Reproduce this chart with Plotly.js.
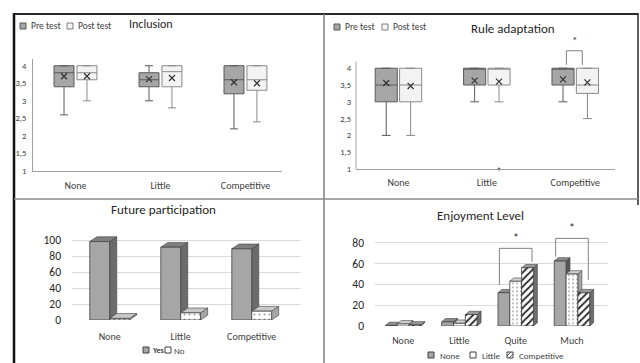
<!DOCTYPE html>
<html><head><meta charset="utf-8">
<script src="https://cdn.plot.ly/plotly-3.0.1.min.js"></script>
<style>body{margin:0;background:#fff}#c{width:640px;height:363px}</style>
</head><body><div id="c"></div>
<script>
// ---------- DATA ----------
const groups = ['None', 'Little', 'Competitive'];
const boxTicks = [1, 1.5, 2, 2.5, 3, 3.5, 4];

// Inclusion (pre / post)
const incPreQ1 = [3.4, 3.4, 3.2], incPreMed = [3.8, 3.6, 3.6], incPreQ3 = [4, 3.8, 4];
const incPreLo = [2.6, 3.0, 2.2], incPreHi = [4, 4, 4], incPreMean = [3.7, 3.62, 3.53];
const incPostQ1 = [3.6, 3.4, 3.3], incPostMed = [3.8, 3.83, 3.6], incPostQ3 = [4, 4, 4];
const incPostLo = [3.0, 2.8, 2.4], incPostHi = [4, 4, 4], incPostMean = [3.7, 3.65, 3.5];

// Rule adaptation (pre / post)
const rulePreQ1 = [3, 3.5, 3.5], rulePreMed = [3.5, 4, 4], rulePreQ3 = [4, 4, 4];
const rulePreLo = [2, 3, 3], rulePreHi = [4, 4, 4], rulePreMean = [3.56, 3.63, 3.67];
const rulePostQ1 = [3, 3.5, 3.25], rulePostMed = [3.5, 4, 3.5], rulePostQ3 = [4, 4, 4];
const rulePostLo = [2, 3, 2.5], rulePostHi = [4, 4, 4], rulePostMean = [3.47, 3.6, 3.58];
const ruleOutlierGroup = [1], ruleOutlierVal = [1];           // post test outlier (Little)
const ruleSigGroup = [2], ruleSigLow = [4.1], ruleSigHigh = [4.52];

// Future participation (%)
const futYes = [98, 91, 89];
const futNo = [2, 9, 11];
const futTicks = [0, 20, 40, 60, 80, 100];

// Enjoyment level (%)
const enjCats = ['None', 'Little', 'Quite', 'Much'];
const enjNone = [0.5, 4, 32, 62.5];
const enjLittle = [2, 2.6, 43, 50];
const enjComp = [1, 11, 56, 32];
const enjTicks = [0, 20, 40, 60, 80];
const enjSigGroup = [2, 3], enjSigTop = [74.7, 84.3];
const enjSigLeftLow = [39.4, 66.6], enjSigRightLow = [61.8, 44.2];

// ---------- HELPERS ----------
const W = 640, H = 363;
const fx = p => p / W, fy = p => 1 - p / H;
const FONT = 'Carlito, Calibri, Lato, "Open Sans", sans-serif';
const idx = a => a.map((_, i) => i);

const traces = [];
const shapes = [];
const annotations = [];

function boxTrace(q1, med, q3, lo, hi, off, w, fill, lc, xa, ya, name) {
  return {
    type: 'box', name: name, x: idx(q1).map(i => i + off),
    q1: q1, median: med, q3: q3, lowerfence: lo, upperfence: hi,
    width: w, fillcolor: fill, line: {color: lc, width: 1}, whiskerwidth: 0.4,
    boxpoints: false, xaxis: xa, yaxis: ya, showlegend: false, hoverinfo: 'skip'
  };
}
function meanTrace(m, off, xa, ya) {
  return {
    type: 'scatter', mode: 'markers', x: idx(m).map(i => i + off), y: m,
    marker: {symbol: 'x-thin', size: 6, line: {color: '#333', width: 1.2}},
    xaxis: xa, yaxis: ya, showlegend: false, hoverinfo: 'skip'
  };
}

// Panel 1: Inclusion
const o1 = 0.135, w1 = 0.235;
traces.push(boxTrace(incPreQ1, incPreMed, incPreQ3, incPreLo, incPreHi, -o1, w1, '#a6a6a6', '#595959', 'x', 'y', 'Pre test'));
traces.push(boxTrace(incPostQ1, incPostMed, incPostQ3, incPostLo, incPostHi, o1, w1, '#f3f3f3', '#8a8a8a', 'x', 'y', 'Post test'));
traces.push(meanTrace(incPreMean, -o1, 'x', 'y'));
traces.push(meanTrace(incPostMean, o1, 'x', 'y'));

// Panel 2: Rule adaptation
const o2 = 0.138, w2 = 0.25;
traces.push(boxTrace(rulePreQ1, rulePreMed, rulePreQ3, rulePreLo, rulePreHi, -o2, w2, '#a6a6a6', '#595959', 'x2', 'y2', 'Pre test'));
traces.push(boxTrace(rulePostQ1, rulePostMed, rulePostQ3, rulePostLo, rulePostHi, o2, w2, '#f3f3f3', '#8a8a8a', 'x2', 'y2', 'Post test'));
traces.push(meanTrace(rulePreMean, -o2, 'x2', 'y2'));
traces.push(meanTrace(rulePostMean, o2, 'x2', 'y2'));
traces.push({type: 'scatter', mode: 'markers', x: ruleOutlierGroup.map(i => i + o2), y: ruleOutlierVal,
  marker: {size: 3, color: '#666'}, xaxis: 'x2', yaxis: 'y2', showlegend: false, cliponaxis: false, hoverinfo: 'skip'});
// y axis line (only up to 4.2) and significance bracket
shapes.push({type: 'line', xref: 'x2 domain', yref: 'y2', x0: 0, x1: 0, y0: 1, y1: 4.2, line: {color: '#a0a0a0', width: 1}});
ruleSigGroup.forEach((g, k) => {
  const a = g - 0.1, b = g + 0.08;
  shapes.push({type: 'path', xref: 'x2', yref: 'y2', layer: 'above',
    path: `M${a},${ruleSigLow[k]} L${a},${ruleSigHigh[k]} L${b},${ruleSigHigh[k]} L${b},${ruleSigLow[k]}`,
    line: {color: '#808080', width: 1}});
  annotations.push({xref: 'x2', yref: 'y2', x: g - 0.01, y: ruleSigHigh[k] + 0.04, text: '*', showarrow: false,
    yanchor: 'bottom', font: {size: 11, color: '#333'}});
});

// 3D faces (side + top) derived from the same values as the front-face bars
function addFaces(vals, i, off, w, dx, dy, topC, sideC, xr, yr) {
  const v = vals[i], x0 = i + off, x1 = x0 + w;
  shapes.push({type: 'path', xref: xr, yref: yr, layer: 'between',
    path: `M${x1},0 L${x1 + dx},${dy} L${x1 + dx},${v + dy} L${x1},${v} Z`,
    fillcolor: sideC, line: {color: '#404040', width: 0.6}});
  shapes.push({type: 'path', xref: xr, yref: yr, layer: 'between',
    path: `M${x0},${v} L${x0 + dx},${v + dy} L${x1 + dx},${v + dy} L${x1},${v} Z`,
    fillcolor: topC, line: {color: '#404040', width: 0.6}});
}

// Panel 3: Future participation
const w3 = 0.28, dx3 = 0.1, dy3 = 6;
traces.push({type: 'bar', name: 'Yes', x: idx(futYes), y: futYes, width: w3, offset: -w3,
  marker: {color: '#a6a6a6', line: {color: '#404040', width: 0.8}}, xaxis: 'x3', yaxis: 'y3', showlegend: false, hoverinfo: 'skip'});
traces.push({type: 'bar', name: 'No', x: idx(futNo), y: futNo, width: w3, offset: 0,
  marker: {color: '#ffffff', line: {color: '#404040', width: 0.8},
    pattern: {shape: '.', fgcolor: '#9a9a9a', bgcolor: '#ffffff', size: 5, solidity: 0.12}},
  xaxis: 'x3', yaxis: 'y3', showlegend: false, hoverinfo: 'skip'});
idx(futYes).forEach(i => {
  addFaces(futYes, i, -w3, w3, dx3, dy3, '#7f7f7f', '#6b6b6b', 'x3', 'y3');
  addFaces(futNo, i, 0, w3, dx3, dy3, '#c8c8c8', '#a6a6a6', 'x3', 'y3');
});

// Panel 4: Enjoyment level
const w4 = 0.21, dx4 = 0.07, dy4 = 3.2;
const enjSeries = [
  {name: 'None', vals: enjNone, off: -1.5 * w4, marker: {color: '#a6a6a6', line: {color: '#404040', width: 0.8}}, tc: '#8c8c8c', sc: '#595959'},
  {name: 'Little', vals: enjLittle, off: -0.5 * w4, marker: {color: '#ffffff', line: {color: '#404040', width: 0.8},
    pattern: {shape: '.', fgcolor: '#8a8a8a', bgcolor: '#ffffff', size: 4, solidity: 0.15}}, tc: '#d0d0d0', sc: '#a6a6a6'},
  {name: 'Competitive', vals: enjComp, off: 0.5 * w4, marker: {color: '#ffffff', line: {color: '#404040', width: 0.8},
    pattern: {shape: '/', fgcolor: '#262626', bgcolor: '#ffffff', size: 5, solidity: 0.35}}, tc: '#9a9a9a', sc: '#6e6e6e'}
];
enjSeries.forEach(s => traces.push({type: 'bar', name: s.name, x: idx(s.vals), y: s.vals, width: w4, offset: s.off,
  marker: s.marker, xaxis: 'x4', yaxis: 'y4', showlegend: false, hoverinfo: 'skip'}));
idx(enjNone).forEach(i => {
  enjSeries.forEach(s => addFaces(s.vals, i, s.off, w4, dx4, dy4, s.tc, s.sc, 'x4', 'y4'));
});
enjSigGroup.forEach((g, k) => {
  const a = g - 0.29, b = g + 0.29;
  shapes.push({type: 'path', xref: 'x4', yref: 'y4', layer: 'above',
    path: `M${a},${enjSigLeftLow[k]} L${a},${enjSigTop[k]} L${b},${enjSigTop[k]} L${b},${enjSigRightLow[k]}`,
    line: {color: '#808080', width: 1}});
  annotations.push({xref: 'x4', yref: 'y4', x: g, y: enjSigTop[k] + 1.2, text: '*', showarrow: false,
    yanchor: 'bottom', font: {size: 12, color: '#333'}});
});

// ---------- FRAME (paper) ----------
const pl = (x0, y0, x1, y1, c, w) => shapes.push({type: 'line', xref: 'paper', yref: 'paper',
  x0: fx(x0), y0: fy(y0), x1: fx(x1), y1: fy(y1), line: {color: c, width: w}});
pl(14, 14, 638, 14, '#2a2a2a', 2);
pl(14, 13, 14, 363, '#111', 2.5);
pl(638, 13, 638, 205, '#2a2a2a', 1.5);
pl(324, 14, 324, 363, '#7f7f7f', 1.5);
pl(14, 199, 638, 199, '#8a8a8a', 1.5);

// ---------- TITLES & LEGENDS (text) ----------
const txt = (x, y, t, size, anchor, color) => annotations.push({xref: 'paper', yref: 'paper',
  x: fx(x), y: fy(y), text: t, showarrow: false, xanchor: anchor, yanchor: 'middle',
  font: {family: FONT, size: size, color: color || '#262626'}});
txt(151, 24, 'Inclusion', 12, 'center');
txt(513, 28, 'Rule adaptation', 13, 'center');
txt(163, 210, 'Future participation', 13, 'center');
txt(480, 215, 'Enjoyment Level', 13, 'center');

const sq = (x, y, fill, line, pattern) => {
  shapes.push({type: 'rect', xref: 'paper', yref: 'paper', x0: fx(x), x1: fx(x + 6), y0: fy(y + 3), y1: fy(y - 3),
    fillcolor: fill, line: {color: line, width: 1}});
  if (pattern) shapes.push({type: 'path', xref: 'paper', yref: 'paper',
    path: `M${fx(x)},${fy(y + 1)} L${fx(x + 4)},${fy(y - 3)} M${fx(x + 2)},${fy(y + 3)} L${fx(x + 6)},${fy(y - 1)}`,
    line: {color: '#333', width: 0.8}});
};
// legend panel 1
sq(20, 26, '#a6a6a6', '#595959'); txt(29, 26, 'Pre test', 9.5, 'left', '#404040');
sq(67, 26, '#f5f5f5', '#7f7f7f'); txt(76, 26, 'Post test', 9.5, 'left', '#404040');
// legend panel 2
sq(334, 27, '#a6a6a6', '#595959'); txt(343, 27, 'Pre test', 9.5, 'left', '#404040');
sq(382, 27, '#f5f5f5', '#7f7f7f'); txt(391, 27, 'Post test', 9.5, 'left', '#404040');
// legend panel 3
sq(143, 350, '#a6a6a6', '#404040'); txt(149.5, 350, '<b>Yes</b>', 8, 'left', '#404040');
sq(165, 350, '#ffffff', '#404040'); txt(172, 350, 'No', 9, 'left', '#404040');
// legend panel 4 (kept fully inside the picture)
sq(428, 355, '#a6a6a6', '#404040'); txt(438, 355, 'None', 9, 'left', '#404040');
sq(470, 355, '#ffffff', '#404040'); txt(480, 355, 'Little', 9, 'left', '#404040');
sq(507, 355, '#ffffff', '#404040', true); txt(517, 355, 'Competitive', 9, 'left', '#404040');

// ---------- AXES ----------
const tickFont = {family: FONT, size: 8.5, color: '#404040'};
const xFont = {family: FONT, size: 10, color: '#404040'};
const ax = (o) => Object.assign({showgrid: false, zeroline: false, ticks: '', fixedrange: true}, o);

const layout = {
  width: W, height: H, margin: {l: 0, r: 0, t: 0, b: 0},
  paper_bgcolor: '#ffffff', plot_bgcolor: 'rgba(0,0,0,0)',
  separators: ', ', barmode: 'overlay', boxmode: 'overlay', showlegend: false,
  font: {family: FONT},
  xaxis: ax({domain: [fx(33), fx(282)], range: [-0.5, 2.43], anchor: 'y', tickvals: [0, 1, 2], ticktext: groups,
    showline: true, linecolor: '#a0a0a0', tickfont: xFont, ticklabelstandoff: 5}),
  yaxis: ax({domain: [fy(171), fy(58.7)], range: [1, 4.2], anchor: 'x', tickvals: boxTicks,
    showline: true, linecolor: '#a0a0a0', tickfont: tickFont, ticklabelstandoff: 4}),
  xaxis2: ax({domain: [fx(356), fx(615)], range: [-0.48, 2.45], anchor: 'y2', tickvals: [0, 1, 2], ticktext: groups,
    showline: true, linecolor: '#a0a0a0', tickfont: xFont, ticklabelstandoff: 4}),
  yaxis2: ax({domain: [fy(169), fy(46.4)], range: [1, 4.65], anchor: 'x2', tickvals: boxTicks,
    tickfont: tickFont, ticklabelstandoff: 4}),
  xaxis3: ax({domain: [fx(72), fx(300)], range: [-0.53, 2.68], anchor: 'y3', tickvals: [0, 1, 2], ticktext: groups,
    tickfont: xFont, ticklabelstandoff: 9}),
  yaxis3: ax({domain: [fy(320), fy(232)], range: [0, 110], anchor: 'x3', tickvals: futTicks,
    showgrid: true, gridcolor: '#d9d9d9', tickfont: {family: FONT, size: 11.5, color: '#262626'}, ticklabelstandoff: 10}),
  xaxis4: ax({domain: [fx(375), fx(608)], range: [-0.5, 3.64], anchor: 'y4', tickvals: [0, 1, 2, 3], ticktext: enjCats,
    tickfont: xFont, ticklabelstandoff: 7}),
  yaxis4: ax({domain: [fy(326), fy(229.3)], range: [0, 93], anchor: 'x4', tickvals: enjTicks,
    showgrid: true, gridcolor: '#d9d9d9', tickfont: {family: FONT, size: 11.5, color: '#262626'}, ticklabelstandoff: 10}),
  shapes: shapes, annotations: annotations
};

Plotly.newPlot('c', traces, layout, {staticPlot: true, displayModeBar: false});
</script>
</body></html>
